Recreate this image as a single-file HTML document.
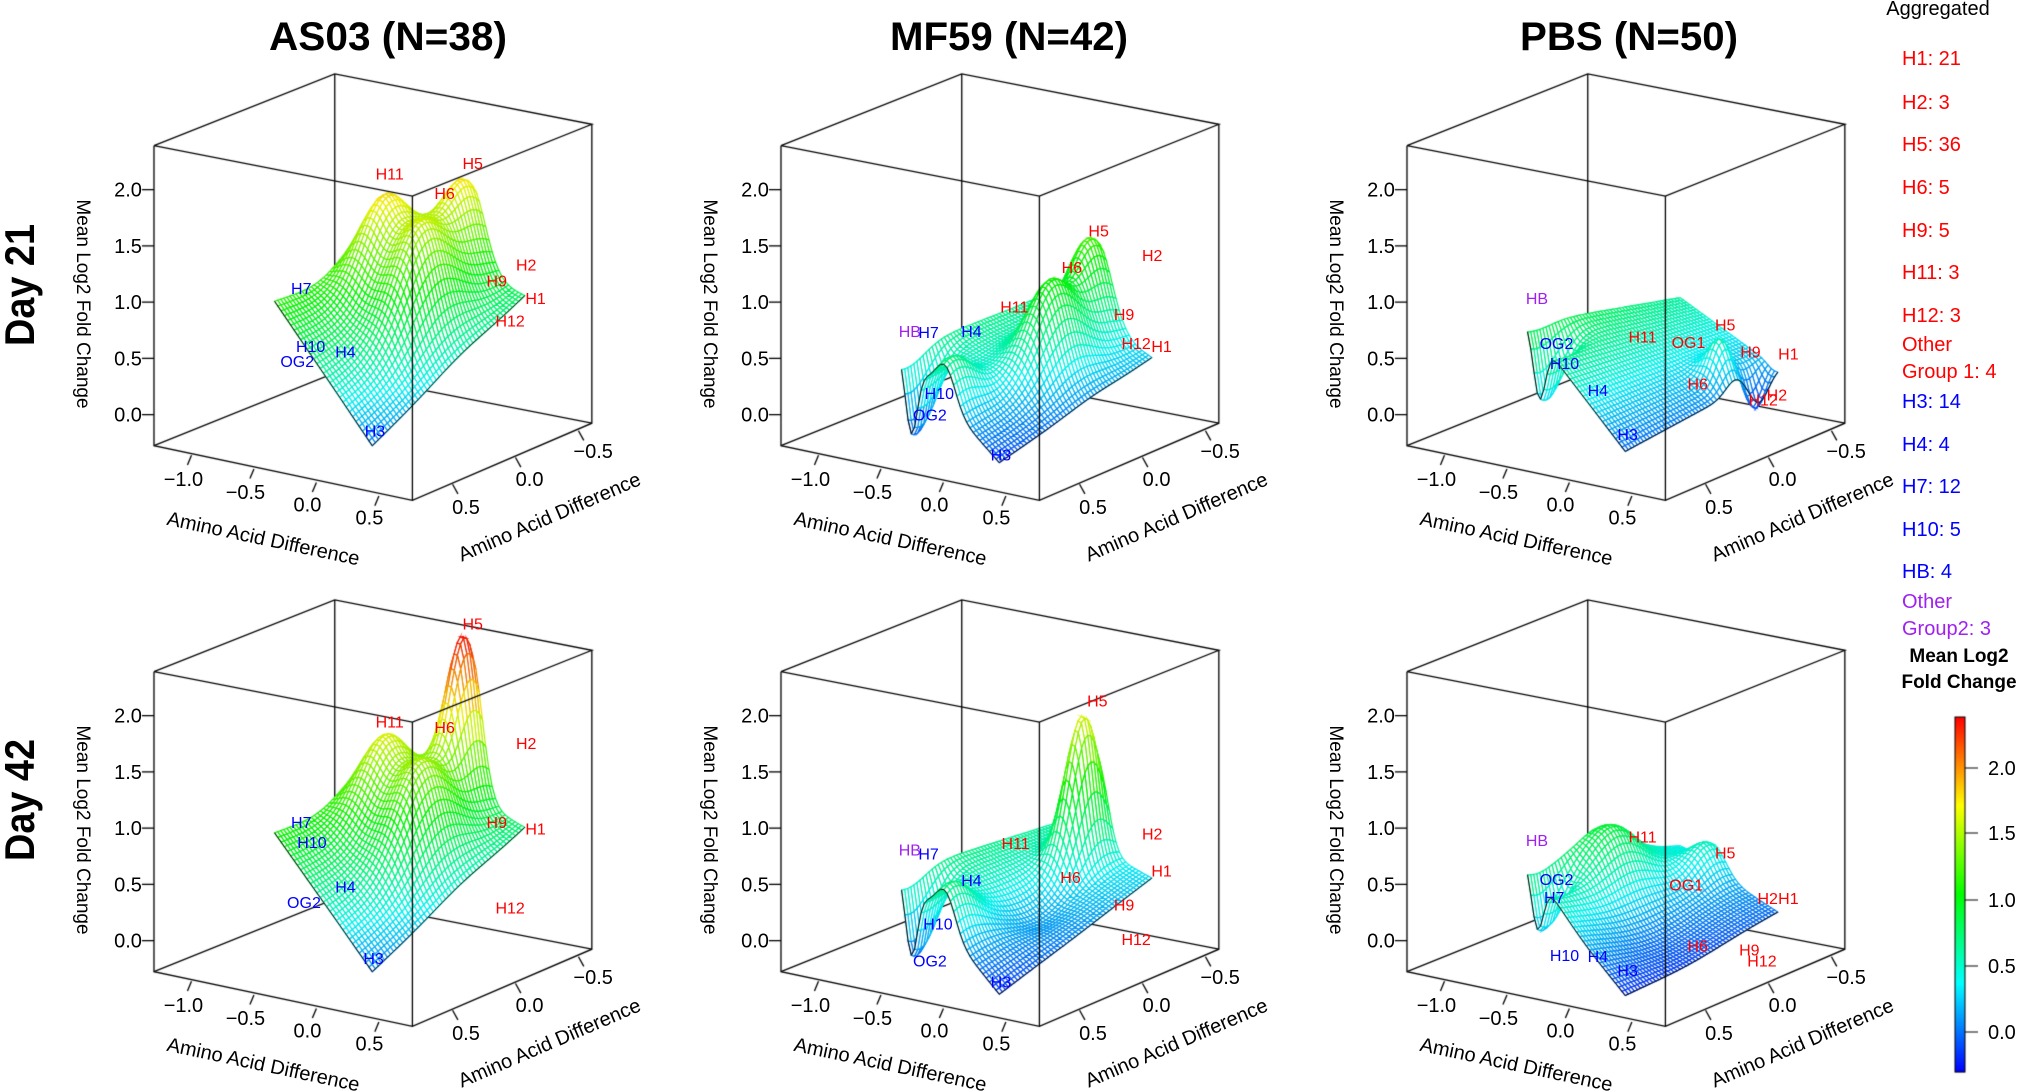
<!DOCTYPE html>
<html><head><meta charset="utf-8">
<style>
html,body{margin:0;padding:0;background:#fff;}
#wrap{position:relative;width:2022px;height:1092px;overflow:hidden;}
canvas,svg{position:absolute;left:0;top:0;}
text{font-family:"Liberation Sans",sans-serif;}
</style></head><body>
<div id="wrap">
<canvas id="c" width="2022" height="1092"></canvas>
<svg id="s" width="2022" height="1092" xmlns="http://www.w3.org/2000/svg"></svg>
</div>
<script>
const cv=document.getElementById('c');const ctx=cv.getContext('2d');
const svg=document.getElementById('s');
const NS='http://www.w3.org/2000/svg';
function T(x,y,str,o){o=o||{};const e=document.createElementNS(NS,'text');e.setAttribute('x',x);e.setAttribute('y',y);
 e.setAttribute('font-size',o.fs||18);e.setAttribute('fill',o.fill||'#000');if(o.anchor)e.setAttribute('text-anchor',o.anchor);
 if(o.bold)e.setAttribute('font-weight','bold');if(o.family)e.setAttribute('style','font-family:'+o.family);
 if(o.rot!==undefined)e.setAttribute('transform','rotate('+o.rot+' '+x+' '+y+')');
 if(o.len){e.setAttribute('textLength',o.len);e.setAttribute('lengthAdjust','spacingAndGlyphs');}
 e.textContent=str;svg.appendChild(e);}
const KX=1.339,KY=1.0714;
const OX=[0,627,1253],OY=[0,526];
function S(col,row,x,y){return [OX[col]+x*KX, y*KY+OY[row]];}
function line(col,row,pts,w){ctx.beginPath();pts.forEach((p,i)=>{const q=S(col,row,p[0],p[1]);if(i)ctx.lineTo(q[0],q[1]);else ctx.moveTo(q[0],q[1]);});ctx.strokeStyle='#000';ctx.lineWidth=w||1.3;ctx.stroke();}
function hue(z){let h=240*(2.39-z)/2.69;return Math.max(0,Math.min(240,h));}
const a1=0.408,a2=0.788,b1=0.08,b2=0.93;
const P=[
 {col:0,row:0,c:[1.15,0.05,0.8,1.0],b:[[0.2,0.6,0.8,0.15,0.16],[0.6,0.58,0.85,0.16,0.17],[0.45,0.95,0.8,0.14,0.13]]},
 {col:1,row:0,c:[0.7,-0.1,0.25,0.65],b:[[0.45,0.95,0.75,0.14,0.12],[0.6,0.6,0.75,0.15,0.15],[0.1,0.03,-0.65,0.06,0.12],[0.45,0.05,0.35,0.1,0.12]]},
 {col:2,row:0,c:[0.95,0.0,0.15,0.6],b:[[0.85,0.72,0.35,0.1,0.06],[0.95,0.88,-0.3,0.06,0.06],[0.12,0.03,-0.55,0.06,0.12]]},
 {col:0,row:1,c:[1.1,0.05,0.75,1.0],b:[[0.2,0.6,0.7,0.15,0.16],[0.6,0.58,0.78,0.16,0.17],[0.45,0.95,1.45,0.11,0.1]]},
 {col:1,row:1,c:[0.75,-0.15,0.3,0.6],b:[[0.45,0.9,1.25,0.1,0.1],[0.1,0.03,-0.65,0.06,0.12],[0.45,0.05,0.35,0.1,0.12],[0.6,0.5,-0.15,0.15,0.15]]},
 {col:2,row:1,c:[0.85,-0.15,0.0,0.4],b:[[0.12,0.5,0.35,0.15,0.15],[0.35,0.95,0.25,0.12,0.1],[0.6,0.4,-0.15,0.25,0.25],[0.1,0.03,-0.5,0.06,0.12]]}
];
function H(p,s,t){const c=p.c;let z=(1-s)*(1-t)*c[0]+s*(1-t)*c[1]+s*t*c[2]+(1-s)*t*c[3];
 p.b.forEach(b=>{const ds=(s-b[0])/b[3],dt=(t-b[1])/b[4];z+=b[2]*Math.exp(-0.5*(ds*ds+dt*dt));});return z;}
const NSs=30,NTt=50;
function surf(p){const G=[];for(let i=0;i<=NSs;i++){G[i]=[];for(let j=0;j<=NTt;j++){const s=i/NSs,t=j/NTt;const a=a1+s*(a2-a1),b=b1+t*(b2-b1);
 const z=H(p,s,t);const x=116+192*a+134*b,y=386.9+51*a-72*b-105*z;G[i][j]={p:S(p.col,p.row,x,y),z:z};}}
 const Q=[];for(let i=0;i<NSs;i++)for(let j=0;j<NTt;j++)Q.push([i,j,i/NSs-j/NTt]);
 Q.sort((u,v)=>u[2]-v[2]);
 Q.forEach(q=>{const i=q[0],j=q[1];const v=[G[i][j],G[i+1][j],G[i+1][j+1],G[i][j+1]];
  ctx.beginPath();ctx.moveTo(v[0].p[0],v[0].p[1]);for(let k=1;k<4;k++)ctx.lineTo(v[k].p[0],v[k].p[1]);ctx.closePath();
  ctx.fillStyle='#fff';ctx.fill();const z=(v[0].z+v[1].z+v[2].z+v[3].z)/4;
  ctx.strokeStyle='hsl('+hue(z)+',100%,47%)';ctx.lineWidth=1.2;ctx.stroke();});
 ctx.beginPath();for(let i=0;i<=NSs;i++){const q=G[i][0].p;if(i)ctx.lineTo(q[0],q[1]);else ctx.moveTo(q[0],q[1]);}
 for(let j=0;j<=NTt;j++){const q=G[NSs][j].p;ctx.lineTo(q[0],q[1]);}
 ctx.strokeStyle='#000';ctx.lineWidth=1;ctx.stroke();}
const AX=Math.atan2(51*KY,192*KX)*180/Math.PI, AY=-Math.atan2(72*KY,134*KX)*180/Math.PI;
P.forEach(p=>{const c=p.col,r=p.row;
 line(c,r,[[250,69],[250,348]]);line(c,r,[[115,416],[250,348],[442,395]]);
 surf(p);
 line(c,r,[[115,136],[250,69],[442,116],[308,183],[115,136]]);
 line(c,r,[[115,136],[115,416],[308,467],[442,395],[442,116]]);
 line(c,r,[[308,183],[308,467]]);
 for(let k=0;k<=4;k++){const y=387-k*52.5;line(c,r,[[106,y],[115,y]]);const q=S(c,r,106,y);T(q[0],q[1]+7,(k*0.5).toFixed(1),{anchor:'end',fs:20});}
 [-1,-0.5,0,0.5].forEach((v,k)=>{const bx=143+(v+1)*93.3,by=425+(v+1)*25.3;line(c,r,[[bx,by],[bx-3,by+9]]);
  const q=S(c,r,137+k*46.3,447+k*12);T(q[0],q[1]+7,(v<0?'\u2212':'')+Math.abs(v).toFixed(1),{anchor:'middle',fs:20});});
 [0.5,0,-0.5].forEach((v,k)=>{const bx=338+k*47,by=452-k*25;line(c,r,[[bx,by],[bx+4,by+9]]);
  const q=S(c,r,348+k*47.5,473-k*26);T(q[0],q[1]+7,(v<0?'\u2212':'')+Math.abs(v).toFixed(1),{anchor:'middle',fs:20});});
 T(OX[c]+262,539+OY[r]+6,'Amino Acid Difference',{anchor:'middle',fs:20,rot:AX});
 T(OX[c]+552,517+OY[r]+6,'Amino Acid Difference',{anchor:'middle',fs:20,rot:AY});
 T(OX[c]+77,304+OY[r],'Mean Log2 Fold Change',{anchor:'middle',fs:19,rot:90});
});
// titles
[['AS03 (N=38)',388,238],['MF59 (N=42)',1009,238],['PBS (N=50)',1629,218]].forEach(t=>T(t[1],50,t[0],{anchor:'middle',fs:40,bold:1,len:t[2],family:'"Liberation Sans Narrow","Liberation Sans",sans-serif'}));
T(34,285,'Day 21',{anchor:'middle',fs:42,bold:1,rot:-90,len:122});
T(34,800,'Day 42',{anchor:'middle',fs:42,bold:1,rot:-90,len:122});
// surface labels
const R='#ff0000',B='#0000ff',U='#a020f0';
const L=[
['H11',291,162,R],['H5',353,152,R],['H6',332,180,R],['H2',393,247,R],['H9',371,262,R],['H1',400,278,R],['H12',381,299,R],['H7',225,269,B],['H10',232,323,B],['H4',258,328,B],['OG2',222,337,B],['H3',280,402,B],
['H5',980,215,R],['H2',1020,238,R],['H6',960,249,R],['H11',917,286,R],['H9',999,293,R],['H12',1008,320,R],['H1',1027,323,R],['HB',839,309,U],['H7',853,310,B],['H4',885,309,B],['H10',861,367,B],['OG2',854,387,B],['H3',907,424,B],
['HB',1501,278,U],['H11',1593,314,R],['OG1',1633,319,R],['H5',1665,303,R],['H9',1687,328,R],['H1',1720,330,R],['OG2',1518,320,B],['H10',1525,339,B],['H4',1554,364,B],['H6',1641,358,R],['H12',1698,373,R],['H2',1710,368,R],['H3',1580,405,B],
['H5',353,619,R],['H11',291,712,R],['H6',332,717,R],['H2',393,732,R],['H9',371,807,R],['H1',400,813,R],['H12',381,888,R],['H7',225,807,B],['H10',233,826,B],['H4',258,868,B],['OG2',227,883,B],['H3',279,936,B],
['H5',979,692,R],['H2',1020,818,R],['H11',918,827,R],['HB',839,833,U],['H7',853,837,B],['H1',1027,853,R],['H6',959,859,R],['H4',885,862,B],['H9',999,885,R],['H10',860,903,B],['H12',1008,918,R],['OG2',854,938,B],['H3',907,958,B],
['HB',1501,824,U],['H11',1593,821,R],['H5',1665,836,R],['OG2',1518,861,B],['OG1',1631,866,R],['H2',1702,879,R],['H1',1720,879,R],['H7',1516,878,B],['H6',1641,924,R],['H9',1686,928,R],['H12',1697,938,R],['H10',1525,933,B],['H4',1554,934,B],['H3',1580,947,B]];
L.forEach(l=>{let x=l[1],y=l[2];
 if(x<600)x=x*1.339;else if(x<1250)x=630+(x-630)*1.339;else x=1258+(x-1258)*1.148;
 if(y<540)y=y*1.0714;else y=540+(y-540)*1.056;
 T(x,y+6,l[0],{anchor:'middle',fs:16,fill:l[3]});});
// legend
T(1938,15,'Aggregated',{anchor:'middle',fs:20});
const LG=[['H1: 21',58,R],['H2: 3',102,R],['H5: 36',144,R],['H6: 5',187,R],['H9: 5',230,R],['H11: 3',272,R],['H12: 3',315,R],['Other',344,R],['Group 1: 4',371,R],
['H3: 14',401,B],['H4: 4',444,B],['H7: 12',486,B],['H10: 5',529,B],['HB: 4',571,B],['Other',601,U],['Group2: 3',628,U]];
LG.forEach(l=>T(1902,l[1]+7,l[0],{fs:20,fill:l[2]}));
T(1959,662,'Mean Log2',{anchor:'middle',fs:19,bold:1});
T(1959,688,'Fold Change',{anchor:'middle',fs:19,bold:1});
// colorbar
for(let y=717;y<1072;y++){const z=(1032-y)/132;ctx.fillStyle='hsl('+hue(z)+',100%,50%)';ctx.fillRect(1955,y,10,1.2);}
ctx.strokeStyle='#000';ctx.lineWidth=1;ctx.strokeRect(1955,717,10,355);
[[2.0,768],[1.5,833],[1.0,900],[0.5,966],[0.0,1032]].forEach(k=>{ctx.beginPath();ctx.moveTo(1965,k[1]);ctx.lineTo(1978,k[1]);ctx.stroke();T(1988,k[1]+7,k[0].toFixed(1),{fs:20});});
</script>
</body></html>
